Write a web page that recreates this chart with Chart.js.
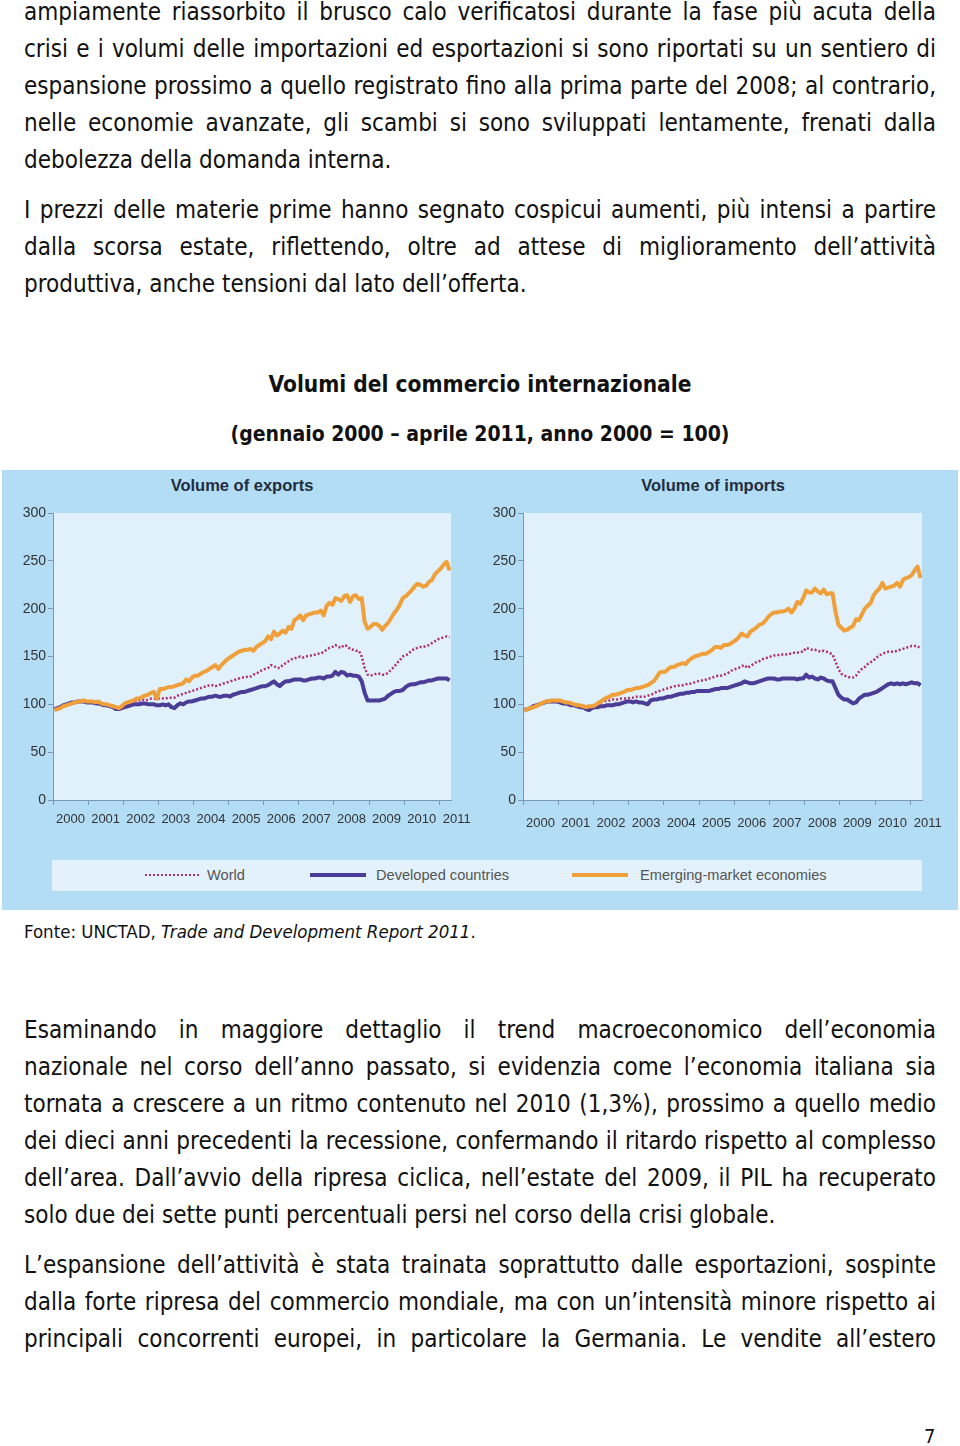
<!DOCTYPE html>
<html><head><meta charset="utf-8">
<script src="https://cdn.jsdelivr.net/npm/chart.js@4.4.0/dist/chart.umd.min.js"></script>
<style>
html,body{margin:0;padding:0;background:#fff;}
body{width:960px;height:1446px;position:relative;overflow:hidden;font-family:"DejaVu Sans Condensed","DejaVu Sans",sans-serif;font-stretch:condensed;color:#111;}
.ln{position:absolute;left:24px;width:912px;height:37px;line-height:37px;font-size:24px;white-space:nowrap;}
.j{text-align:justify;text-align-last:justify;}
.ttl{position:absolute;left:0;width:960px;text-align:center;font-weight:bold;font-size:21px;height:30px;line-height:30px;}
#fig{position:absolute;left:2px;top:470px;width:956px;height:440px;background:#b3dcf5;}
canvas{position:absolute;}
.pt{position:absolute;top:475px;width:300px;height:20px;line-height:20px;text-align:center;font-family:"Liberation Sans",Arial,sans-serif;font-stretch:normal;font-weight:bold;font-size:16.5px;color:#1f2d3d;}
#leg{position:absolute;left:52px;top:860px;width:870px;height:31px;background:#e2f1fb;}
.lt{position:absolute;top:867px;height:16px;line-height:16px;font-family:"Liberation Sans",Arial,sans-serif;font-stretch:normal;font-size:14.6px;color:#555;}
.ls{position:absolute;}
#fonte{position:absolute;left:24px;top:920px;height:24px;line-height:24px;font-size:18.5px;white-space:nowrap;}
#pg{position:absolute;left:924px;top:1424px;font-size:20px;line-height:24px;}
</style></head>
<body>
<div class="ln j" style="top:-6px">ampiamente riassorbito il brusco calo verificatosi durante la fase più acuta della</div>
<div class="ln j" style="top:31px">crisi e i volumi delle importazioni ed esportazioni si sono riportati su un sentiero di</div>
<div class="ln j" style="top:68px">espansione prossimo a quello registrato fino alla prima parte del 2008; al contrario,</div>
<div class="ln j" style="top:105px">nelle economie avanzate, gli scambi si sono sviluppati lentamente, frenati dalla</div>
<div class="ln" style="top:142px">debolezza della domanda interna.</div>
<div class="ln j" style="top:192px">I prezzi delle materie prime hanno segnato cospicui aumenti, più intensi a partire</div>
<div class="ln j" style="top:229px">dalla scorsa estate, riflettendo, oltre ad attese di miglioramento dell’attività</div>
<div class="ln" style="top:266px">produttiva, anche tensioni dal lato dell’offerta.</div>

<div class="ttl" style="top:369px;font-size:22.5px">Volumi del commercio internazionale</div>
<div class="ttl" style="top:419px">(gennaio 2000 – aprile 2011, anno 2000 = 100)</div>

<div id="fig"></div>
<div class="pt" style="left:92px">Volume of exports</div>
<div class="pt" style="left:563px">Volume of imports</div>
<canvas id="cExp" width="478" height="375" style="left:2px;top:470px;width:478px;height:375px"></canvas>
<canvas id="cImp" width="486" height="375" style="left:472px;top:470px;width:486px;height:375px"></canvas>
<div id="leg"></div>
<div class="ls" style="left:145px;top:874px;width:54px;height:2px;background:repeating-linear-gradient(90deg,#b0306e 0 2px,transparent 2px 4px)"></div>
<div class="lt" style="left:207px">World</div>
<div class="ls" style="left:310px;top:873px;width:56px;height:4px;background:#4b3c98"></div>
<div class="lt" style="left:376px">Developed countries</div>
<div class="ls" style="left:572px;top:873px;width:56px;height:4px;background:#f0a03a"></div>
<div class="lt" style="left:640px">Emerging-market economies</div>

<div id="fonte">Fonte: UNCTAD, <i>Trade and Development Report 2011</i>.</div>

<div class="ln j" style="top:1012px">Esaminando in maggiore dettaglio il trend macroeconomico dell’economia</div>
<div class="ln j" style="top:1049px">nazionale nel corso dell’anno passato, si evidenzia come l’economia italiana sia</div>
<div class="ln j" style="top:1086px">tornata a crescere a un ritmo contenuto nel 2010 (1,3%), prossimo a quello medio</div>
<div class="ln j" style="top:1123px">dei dieci anni precedenti la recessione, confermando il ritardo rispetto al complesso</div>
<div class="ln j" style="top:1160px">dell’area. Dall’avvio della ripresa ciclica, nell’estate del 2009, il PIL ha recuperato</div>
<div class="ln" style="top:1197px">solo due dei sette punti percentuali persi nel corso della crisi globale.</div>
<div class="ln j" style="top:1247px">L’espansione dell’attività è stata trainata soprattutto dalle esportazioni, sospinte</div>
<div class="ln j" style="top:1284px">dalla forte ripresa del commercio mondiale, ma con un’intensità minore rispetto ai</div>
<div class="ln j" style="top:1321px">principali concorrenti europei, in particolare la Germania. Le vendite all’estero</div>
<div id="pg">7</div>

<script>
// Monthly series, January 2000 – April 2011 (2000 = 100)
const yearLabels = ['2000','2001','2002','2003','2004','2005','2006','2007','2008','2009','2010','2011'];
const yTickValues = [0, 50, 100, 150, 200, 250, 300];
const seriesNames = ['World', 'Developed countries', 'Emerging-market economies'];

const worldExports = [
  95,96,97,98,99,100,101,102,103,103,103,103,
  103,102,102,102,101,100,100,99,98,97,96,97,
  99,101,102,103,104,104,105,104,105,106,106,106,
  106,106,106,107,107,107,109,110,111,112,113,114,
  115,116,117,118,119,120,120,119,120,121,122,123,
  124,125,126,127,128,128,129,129,131,132,134,136,
  137,138,141,140,138,138,141,143,145,147,148,149,
  150,149,150,151,151,152,153,153,155,157,159,160,
  162,160,159,162,161,158,157,156,156,150,138,131,
  130,131,132,132,131,131,133,136,139,143,146,150,
  151,153,156,158,159,160,160,161,162,164,166,168,
  169,170,171,170];
const developedExports = [
  95,96,97,99,100,101,102,102,103,103,103,102,
  102,102,101,101,100,99,99,98,97,95,95,96,
  97,98,99,100,100,100,101,101,100,100,100,99,
  99,100,99,100,97,96,99,101,100,102,103,103,
  104,105,106,106,107,108,108,109,108,108,109,109,
  108,110,111,112,113,113,114,115,116,117,118,119,
  119,120,122,124,121,119,122,124,124,125,126,126,
  126,125,125,126,127,127,128,128,127,129,129,130,
  134,131,134,133,130,131,130,130,129,124,112,104,
  104,104,104,104,105,106,109,111,113,114,114,115,
  118,120,121,121,122,123,123,124,125,125,126,127,
  127,127,127,125];
const emergingExports = [
  94,95,96,98,99,100,101,102,103,103,104,103,
  103,103,102,103,101,100,100,99,98,97,96,98,
  101,102,103,104,106,106,108,109,110,112,113,106,
  116,116,117,118,118,119,120,121,122,126,124,128,
  130,130,132,134,135,137,139,141,137,141,144,147,
  149,151,153,155,156,157,157,158,156,160,162,164,
  166,171,168,176,172,174,177,175,181,179,188,190,
  193,188,193,194,195,196,196,198,193,203,206,204,
  211,210,208,213,214,207,213,214,210,211,186,179,
  181,184,184,182,178,182,185,190,195,199,204,211,
  213,216,219,223,226,225,223,224,228,230,236,239,
  242,246,249,240];

const worldImports = [
  94,95,96,98,99,100,101,102,103,103,103,103,
  103,102,102,101,101,100,99,99,98,97,97,97,
  98,100,102,103,104,104,105,105,105,106,106,106,
  107,107,108,108,108,108,109,110,111,113,114,115,
  116,117,118,119,119,120,120,121,121,122,123,124,
  125,125,126,127,128,129,130,130,131,132,134,136,
  137,138,140,141,138,140,142,144,145,147,148,149,
  150,151,151,152,152,152,153,153,154,154,155,155,
  159,158,157,157,156,155,156,155,154,152,145,137,
  132,130,129,128,128,130,134,137,139,142,144,146,
  149,151,153,154,155,155,155,156,157,158,159,160,
  161,161,161,158];
const developedImports = [
  94,95,96,98,99,100,101,102,103,103,103,103,
  102,101,101,100,99,99,98,97,97,95,94,96,
  97,97,98,98,99,99,99,100,100,101,102,103,
  103,102,103,102,102,101,100,104,105,105,106,106,
  107,108,108,109,110,111,111,112,112,113,113,114,
  114,114,114,114,115,116,116,117,117,117,118,119,
  120,121,122,124,123,122,122,123,124,125,126,127,
  127,127,126,126,127,127,127,127,127,126,127,127,
  131,128,129,127,126,128,127,125,124,124,117,110,
  107,105,105,103,101,102,106,108,110,110,111,112,
  113,115,117,119,121,122,121,122,121,122,121,122,
  123,122,122,120];
const emergingImports = [
  93,95,96,97,98,100,101,103,103,104,104,104,
  104,103,102,102,101,100,99,99,98,97,98,98,
  99,101,103,105,107,108,110,110,111,112,113,115,
  115,116,117,117,118,119,120,122,124,128,133,134,
  134,137,139,139,141,142,143,142,146,148,150,151,
  152,153,153,155,157,160,160,159,162,162,163,165,
  167,170,174,172,171,176,178,180,183,184,187,191,
  194,196,196,197,197,198,200,196,200,207,205,211,
  219,217,217,221,218,216,220,215,216,216,197,183,
  180,177,178,180,182,189,188,194,200,203,206,214,
  218,221,227,221,222,223,224,227,223,230,232,233,
  235,240,244,232];

const seriesColors = ['#b0306e', '#4b3c98', '#f0a03a'];
const yearStarts = yearLabels.map((_, i) => i * 12);

function toPoints(arr) { return arr.map((v, i) => ({ x: i + 0.5, y: v })); }

const plotBg = {
  id: 'plotBg',
  beforeDraw(chart) {
    const { ctx, chartArea: a } = chart;
    ctx.save();
    ctx.fillStyle = '#e1f1fb';
    ctx.fillRect(a.left, a.top, a.right - a.left, a.bottom - a.top);
    ctx.restore();
  }
};

function makeChart(id, world, dev, emg, rightPad, xPad) {
  const axisColor = '#7c97b6';
  return new Chart(document.getElementById(id), {
    type: 'line',
    data: {
      datasets: [
        { label: seriesNames[2], data: toPoints(emg), borderColor: seriesColors[2], borderWidth: 4, order: 0 },
        { label: seriesNames[0], data: toPoints(world), borderColor: seriesColors[0], borderWidth: 2.5, borderDash: [2, 2], order: 1 },
        { label: seriesNames[1], data: toPoints(dev), borderColor: seriesColors[1], borderWidth: 4, order: 2 }
      ]
    },
    options: {
      responsive: false,
      animation: false,
      devicePixelRatio: 1,
      elements: { point: { radius: 0 }, line: { tension: 0, borderJoinStyle: 'round', borderCapStyle: 'butt' } },
      layout: { padding: { left: 0, right: rightPad, top: 43, bottom: 0 } },
      plugins: {
        legend: { display: false },
        tooltip: { enabled: false },
        title: { display: false }
      },
      scales: {
        x: {
          type: 'linear', min: 0, max: 136,
          afterBuildTicks(scale) { scale.ticks = yearStarts.map(v => ({ value: v })); },
          afterFit(scale) { scale.height = 45; },
          ticks: {
            callback: (v, i) => yearLabels[i],
            labelOffset: 17.5, padding: xPad, maxRotation: 0, autoSkip: false,
            color: '#333', font: { family: 'Liberation Sans, Arial, sans-serif', size: 13 }
          },
          grid: { drawOnChartArea: false, drawTicks: true, tickLength: 5, color: axisColor },
          border: { display: true, color: axisColor, width: 1 }
        },
        y: {
          min: 0, max: 300,
          afterBuildTicks(scale) { scale.ticks = yTickValues.map(v => ({ value: v })); },
          afterFit(scale) { scale.width = 51; },
          ticks: { padding: 2, color: '#333', font: { family: 'Liberation Sans, Arial, sans-serif', size: 14 } },
          grid: { drawOnChartArea: false, drawTicks: true, tickLength: 5, color: axisColor },
          border: { display: true, color: axisColor, width: 1 }
        }
      }
    },
    plugins: [plotBg]
  });
}

makeChart('cExp', worldExports, developedExports, emergingExports, 29, 7);
makeChart('cImp', worldImports, developedImports, emergingImports, 36, 11);
</script>
</body></html>
